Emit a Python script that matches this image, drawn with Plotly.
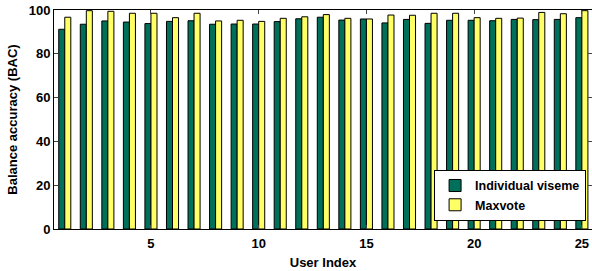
import plotly.graph_objects as go

users = list(range(1, 26))
individual_viseme = [91.2, 93.5, 95.0, 94.5, 93.8, 94.8, 95.1, 93.5, 93.6, 93.6,
                     94.7, 96.0, 96.7, 95.4, 95.9, 94.1, 95.7, 93.9, 95.3, 95.3,
                     95.1, 95.7, 95.6, 95.7, 96.5]
maxvote = [96.7, 99.7, 99.4, 98.5, 98.5, 96.5, 98.5, 95.0, 95.3, 94.8,
           96.2, 96.9, 97.9, 96.2, 95.9, 97.7, 97.6, 98.5, 98.5, 96.5,
           96.2, 96.3, 98.9, 98.3, 99.7]
x_ticks = [5, 10, 15, 20, 25]
y_ticks = [0, 20, 40, 60, 80, 100]

FONT = "Liberation Sans"

fig = go.Figure()
fig.add_trace(go.Bar(x=users, y=individual_viseme, name="Individual viseme",
                     marker=dict(color="#00705a", line=dict(color="black", width=1))))
fig.add_trace(go.Bar(x=users, y=maxvote, name="Maxvote",
                     marker=dict(color="#ffff66", line=dict(color="black", width=1))))

fig.update_layout(
    width=592, height=271,
    margin=dict(l=54, r=0, t=10, b=42),
    plot_bgcolor="white", paper_bgcolor="white",
    barmode="group", bargap=0.44, bargroupgap=0.0,
    font=dict(family=FONT, size=13, color="black"),
    legend=dict(x=0.989, y=0.037, xanchor="right", yanchor="bottom",
                bgcolor="white", bordercolor="black", borderwidth=1,
                font=dict(family=FONT, size=12.5, color="black", weight="bold"),
                tracegroupgap=0, itemwidth=30),
    showlegend=True,
)
fig.update_xaxes(range=[0.5, 25.47], tickvals=x_ticks, ticks="inside", ticklen=4,
                 showline=True, linecolor="black", linewidth=1, mirror="ticks",
                 showgrid=False, zeroline=False, ticklabelstandoff=2,
                 tickfont=dict(family=FONT, size=13, weight="bold"),
                 title=dict(text="User Index", font=dict(family=FONT, size=13, weight="bold"), standoff=8))
fig.update_yaxes(range=[0, 100], tickvals=y_ticks, ticks="inside", ticklen=4,
                 showline=True, linecolor="black", linewidth=1, mirror="ticks",
                 showgrid=False, zeroline=False,
                 tickfont=dict(family=FONT, size=13, weight="bold"),
                 title=dict(text="Balance accuracy (BAC)", font=dict(family=FONT, size=13, weight="bold"), standoff=8))

fig.write_html("out.html", config={"displayModeBar": False},
               post_script="document.body.style.margin='0';")
